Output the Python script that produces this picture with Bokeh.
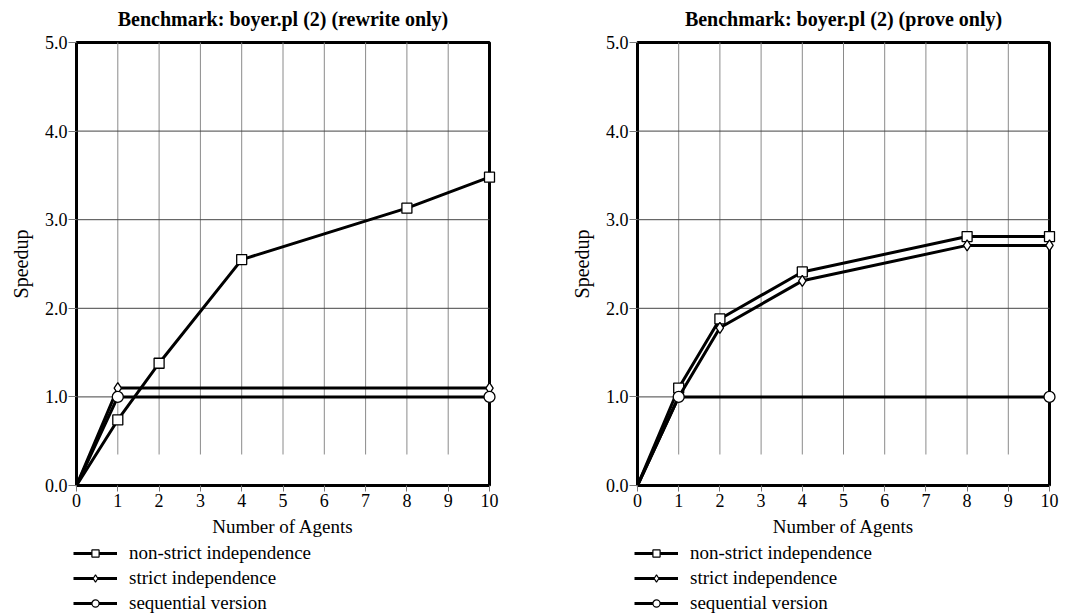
from bokeh.plotting import figure
from bokeh.layouts import row, column
from bokeh.models import Range1d, FixedTicker, Legend, LegendItem
from bokeh.embed import file_html
from bokeh.resources import INLINE

# ---- data ----
agents = [0, 1, 2, 4, 8, 10]
agents_flat = [0, 1, 10]

rewrite_nonstrict = [0.0, 0.74, 1.38, 2.55, 3.13, 3.48]
rewrite_strict = [0.0, 1.10, 1.10]
rewrite_seq = [0.0, 1.0, 1.0]

prove_nonstrict = [0.0, 1.10, 1.88, 2.41, 2.81, 2.81]
prove_strict = [0.0, 1.00, 1.78, 2.31, 2.71, 2.71]
prove_seq = [0.0, 1.0, 1.0]

x_ticks = list(range(0, 11))
y_ticks = [0, 1, 2, 3, 4, 5]
y_tick_labels = {0: "0.0", 1: "1.0", 2: "2.0", 3: "3.0", 4: "4.0", 5: "5.0"}

labels = ["non-strict independence", "strict independence", "sequential version"]
markers = ["square", "diamond", "circle"]
marker_sizes = [10, 11, 11]

FONT = "Liberation Serif"
W = 541
MAIN_H = 540
LEG_H = 74
PAD = 8        # px of padding around the data box so edge markers are not clipped
PADY = 3


def make_plot(title, series, box_left, box_right):
    box_w = W - box_left - box_right
    box_top, box_bottom = 42, 485
    box_h = box_bottom - box_top
    xpad = 10.0 * PAD / box_w
    ypad = 5.0 * PADY / box_h
    p = figure(width=W, height=MAIN_H,
               x_range=Range1d(x_ticks[0] - xpad, x_ticks[-1] + xpad),
               y_range=Range1d(y_ticks[0] - ypad, y_ticks[-1] + ypad),
               output_backend="svg", toolbar_location=None,
               min_border_left=box_left - PAD, min_border_right=box_right - PAD,
               min_border_top=box_top - PADY, min_border_bottom=MAIN_H - box_bottom - PADY)
    p.title.text = title
    p.title.align = "center"
    p.title.vertical_align = "top"
    p.title.text_font = FONT
    p.title.text_font_size = "20px"
    p.title.text_font_style = "bold"
    p.title.text_color = "black"
    p.title.offset = 0
    p.title.standoff = 15

    p.outline_line_color = None
    p.xgrid.grid_line_color = None
    p.ygrid.grid_line_color = None

    p.xaxis.ticker = FixedTicker(ticks=x_ticks)
    p.yaxis.ticker = FixedTicker(ticks=y_ticks)
    p.yaxis.major_label_overrides = y_tick_labels
    for ax in (p.xaxis, p.yaxis):
        ax.major_label_text_font = FONT
        ax.major_label_text_font_size = "18px"
        ax.major_label_text_color = "black"
        ax.axis_label_text_font = FONT
        ax.axis_label_text_font_style = "normal"
        ax.axis_label_text_color = "black"
        ax.minor_tick_line_color = None
        ax.axis_line_color = None
        ax.major_tick_line_color = "#777777"
    p.xaxis.axis_label_text_font_size = "19px"
    p.yaxis.axis_label_text_font_size = "20px"
    p.xaxis.major_tick_in = PADY
    p.xaxis.major_tick_out = 3
    p.xaxis.major_label_standoff = 2
    p.xaxis.axis_label_standoff = 6
    p.yaxis.major_tick_in = PAD
    p.yaxis.major_tick_out = 0
    p.yaxis.major_label_standoff = 1
    p.yaxis.axis_label_standoff = 10
    p.xaxis.axis_label = "Number of Agents"
    p.yaxis.axis_label = "Speedup"

    # data box frame
    p.quad(left=[x_ticks[0]], right=[x_ticks[-1]], bottom=[y_ticks[0]], top=[y_ticks[-1]],
           fill_color=None, line_color="black", line_width=3)

    # grid lines within the data box
    inner_x = x_ticks[1:-1]
    inner_y = y_ticks[1:-1]
    p.segment(x0=inner_x, x1=inner_x, y0=[y_ticks[0] + 0.35] * len(inner_x),
              y1=[y_ticks[-1]] * len(inner_x), line_color="#8a8a8a", line_width=1)
    p.segment(x0=[x_ticks[0]] * len(inner_y), x1=[x_ticks[-1]] * len(inner_y),
              y0=inner_y, y1=inner_y, line_color="#444444", line_width=1)

    for (xs, ys), mk, ms in zip(series, markers, marker_sizes):
        p.line(xs, ys, line_color="black", line_width=3)
        p.scatter(xs[1:], ys[1:], marker=mk, size=ms, fill_color="white",
                  line_color="black", line_width=1.3)

    # legend in a small companion figure under the chart (frame aligned with chart frame)
    lf = figure(width=W, height=LEG_H, output_backend="svg", toolbar_location=None,
                x_range=Range1d(0, 1), y_range=Range1d(0, 1), min_border=0)
    lf.axis.visible = False
    lf.grid.grid_line_color = None
    lf.outline_line_color = None
    items = []
    for lab, mk in zip(labels, markers):
        ln = lf.line([-5, -4], [-5, -4], line_color="black", line_width=3)
        sc = lf.scatter([-5], [-5], marker=mk, size=8, fill_color="white",
                        line_color="black", line_width=1.2)
        items.append(LegendItem(label=lab, renderers=[ln, sc]))
    leg = Legend(items=items, location=(PAD - 3, 0), orientation="vertical")
    leg.label_text_font = FONT
    leg.label_text_font_size = "19px"
    leg.label_text_color = "black"
    leg.glyph_width = 44
    leg.glyph_height = 18
    leg.label_height = 18
    leg.spacing = 3
    leg.label_standoff = 12
    leg.padding = 0
    leg.margin = 0
    leg.border_line_color = None
    leg.background_fill_alpha = 0
    lf.add_layout(leg)
    return column(p, lf, spacing=0)


c1 = make_plot("Benchmark: boyer.pl (2) (rewrite only)",
               [(agents, rewrite_nonstrict), (agents_flat, rewrite_strict), (agents_flat, rewrite_seq)],
               76, 52)
c2 = make_plot("Benchmark: boyer.pl (2) (prove only)",
               [(agents, prove_nonstrict), (agents, prove_strict), (agents_flat, prove_seq)],
               96, 33)

layout = row(c1, c2, spacing=0)
open("out.html", "w").write(file_html(layout, INLINE))
